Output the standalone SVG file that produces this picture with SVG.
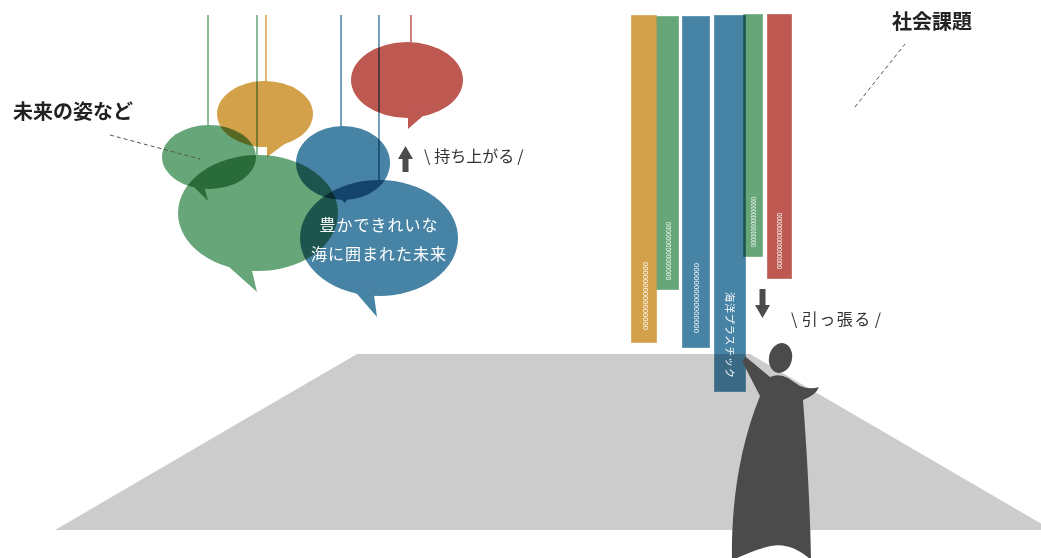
<svg xmlns="http://www.w3.org/2000/svg" width="1041" height="558" viewBox="0 0 1041 558">
  <defs>
    <style>
      .jp { font-family: "Noto Sans CJK JP", "Noto Sans", sans-serif; }
      .lbl { font-size: 20px; font-weight: 700; fill: #222; }
      .say { font-size: 16px; fill: #333; }
      .mul { mix-blend-mode: multiply; }
      .orange { fill: #D4A14B; }
      .green { fill: #67A678; }
      .blue { fill: #4783A5; }
      .red { fill: #BE5952; }
      .str { stroke-width: 1.5; fill: none; }
      .bar { stroke: #ffffff; stroke-opacity: 0.35; stroke-width: 1; }
      .code { font-family: "Liberation Sans", sans-serif; font-size: 8px; fill: #ffffff; }
      .lead { stroke: #555; stroke-width: 1; stroke-dasharray: 4 3; fill: none; }
      .dark { fill: #4B4B4B; }
    </style>
  </defs>

  <rect width="1041" height="558" fill="#ffffff"/>

  <!-- floor -->
  <polygon id="floor" points="357,354 750,354 1052,530 55,530" fill="#CCCCCC"/>

  <!-- hanging speech bubbles -->
  <g id="bubble-green-small" class="mul">
    <line class="str" x1="208" y1="15" x2="208" y2="126" stroke="#67A678"/>
    <ellipse class="green" cx="209" cy="157" rx="47" ry="32"/>
    <polygon class="green" points="185,178 208,201 204,185"/>
  </g>
  <g id="bubble-orange" class="mul">
    <line class="str" x1="266" y1="15" x2="266" y2="82" stroke="#D4A14B"/>
    <ellipse class="orange" cx="265" cy="114" rx="48" ry="33"/>
    <polygon class="orange" points="267,140 267,157 290,140"/>
  </g>
  <g id="bubble-green-large" class="mul">
    <line class="str" x1="257" y1="15" x2="257" y2="156" stroke="#67A678"/>
    <ellipse class="green" cx="258" cy="213" rx="80" ry="58"/>
    <polygon class="green" points="210,250 257,292 250,262"/>
  </g>
  <g id="bubble-blue-small" class="mul">
    <line class="str" x1="341" y1="15" x2="341" y2="127" stroke="#4783A5"/>
    <ellipse class="blue" cx="343" cy="163" rx="47" ry="37"/>
    <polygon class="blue" points="330,190 345,203 354,190"/>
  </g>
  <g id="bubble-blue-large" class="mul">
    <line class="str" x1="379" y1="15" x2="379" y2="181" stroke="#4783A5"/>
    <ellipse class="blue" cx="379" cy="238" rx="79" ry="58"/>
    <polygon class="blue" points="345,280 377,317 373,288"/>
  </g>
  <g id="bubble-red" class="mul">
    <line class="str" x1="411" y1="15" x2="411" y2="43" stroke="#BE5952"/>
    <ellipse class="red" cx="407" cy="80" rx="56" ry="38"/>
    <polygon class="red" points="408,110 408,129 432,108"/>
  </g>
  <g id="bubble-text" class="jp" fill="#ffffff" font-size="16" text-anchor="middle" letter-spacing="1">
    <text x="379" y="231">豊かできれいな</text>
    <text x="379" y="260">海に囲まれた未来</text>
  </g>

  <!-- hanging issue banners -->
  <g id="banner-orange" class="mul">
    <rect class="bar orange" x="631" y="15" width="26" height="328"/>
  </g>
  <g id="banner-green-1" class="mul">
    <rect class="bar green" x="656.5" y="16" width="22.5" height="274"/>
  </g>
  <g id="banner-blue-1" class="mul">
    <rect class="bar blue" x="682" y="16" width="28" height="332"/>
  </g>
  <g id="banner-blue-2" class="mul">
    <rect class="bar blue" x="714" y="15" width="32" height="377"/>
  </g>
  <g id="banner-green-2" class="mul">
    <rect class="bar green" x="743" y="14" width="20" height="243"/>
  </g>
  <g id="banner-red" class="mul">
    <rect class="bar red" x="767" y="14" width="25" height="265"/>
  </g>
  <g id="banner-labels">
    <text class="code" transform="translate(645,262) rotate(90)" dominant-baseline="central" textLength="68" lengthAdjust="spacingAndGlyphs">0000000000000000</text>
    <text class="code" transform="translate(668,222) rotate(90)" dominant-baseline="central" textLength="58" lengthAdjust="spacingAndGlyphs" font-size="7">0000000000000000</text>
    <text class="code" transform="translate(696,263) rotate(90)" dominant-baseline="central" textLength="70" lengthAdjust="spacingAndGlyphs">0000000000000000</text>
    <text class="code" transform="translate(753,197) rotate(90)" dominant-baseline="central" textLength="50" lengthAdjust="spacingAndGlyphs" font-size="6.5">0000000000000000</text>
    <text class="code" transform="translate(779.5,213) rotate(90)" dominant-baseline="central" textLength="56" lengthAdjust="spacingAndGlyphs" font-size="7">0000000000000000</text>
    <text class="jp" transform="translate(730,292) rotate(90)" dominant-baseline="central" fill="#ffffff" font-size="10" textLength="86" lengthAdjust="spacing">海洋プラスチック</text>
  </g>

  <!-- figure pulling a banner -->
  <g id="figure" class="dark">
    <ellipse cx="780.5" cy="358" rx="11.5" ry="15" transform="rotate(12 780.5 358)"/>
    <path d="M746,357 L770,377 Q779,373 788,378 L800,386 Q810,390 819,387 Q816,395 803,400 C806,440 810,500 811,560 C800,550 786,543 771,546 C756,549 742,556 732,560 C731,510 738,450 760,396 L743,363 Q743,357 746,357 Z"/>
  </g>

  <!-- arrows -->
  <g id="connectors" class="dark">
    <path id="arrow-up" d="M405.5,146 L413,159 L408.5,159 L408.5,172 L402.5,172 L402.5,159 L398,159 Z"/>
    <path id="arrow-down" d="M762.5,318 L770,305 L765.5,305 L765.5,289 L759.5,289 L759.5,305 L755,305 Z"/>
    <line class="lead" x1="110" y1="135" x2="200" y2="159"/>
    <line class="lead" x1="855" y1="107" x2="905" y2="44"/>
  </g>

  <!-- labels -->
  <g id="labels" class="jp">
    <text class="lbl" x="13" y="119">未来の姿など</text>
    <text class="lbl" x="892" y="29" font-size="21">社会課題</text>
    <text class="say" x="424" y="162">\<tspan dx="4">持ち上がる</tspan><tspan dx="3">/</tspan></text>
    <text class="say" x="791" y="325" letter-spacing="1.5">\<tspan dx="3">引っ張る</tspan><tspan dx="3">/</tspan></text>
  </g>
</svg>
